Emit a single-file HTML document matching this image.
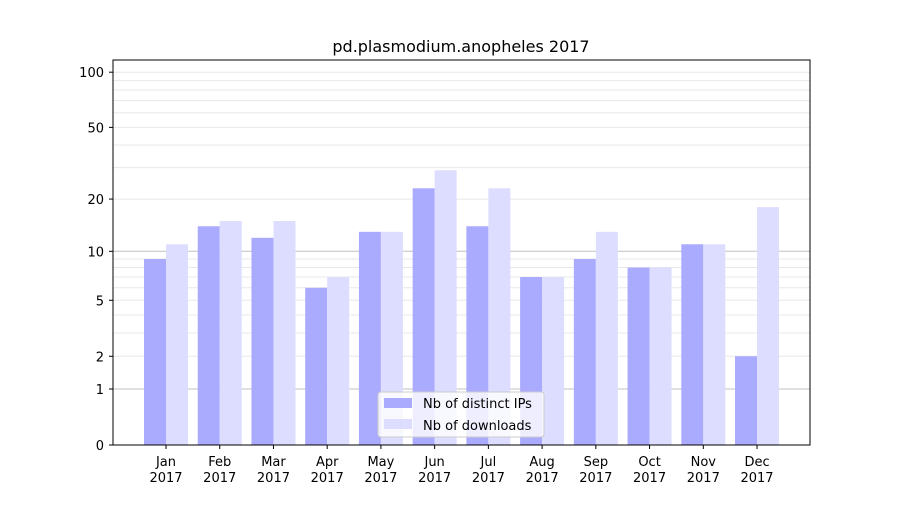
<!DOCTYPE html>
<html><head><meta charset="utf-8"><style>
body{margin:0;background:#fff;font-family:"Liberation Sans","DejaVu Sans",sans-serif;}
svg text{font-family:"DejaVu Sans","Liberation Sans",sans-serif;}
</style></head><body>
<svg id="chart" width="900" height="500" xmlns="http://www.w3.org/2000/svg">
<rect width="900" height="500" fill="#fff"/>
<text x="461" y="52" text-anchor="middle" font-size="16">pd.plasmodium.anopheles 2017</text>
<g id="grid"></g><g id="bars"></g><g id="axes"></g>
<rect x="113" y="60" width="697" height="385" fill="none" stroke="#000" stroke-width="1"/>
<g>
<rect x="378" y="392" width="166" height="45" rx="3" fill="#fff" fill-opacity="0.8" stroke="#ccc"/>
<rect x="384" y="398" width="28" height="10" fill="#aaaaff"/>
<text x="423" y="408" font-size="13">Nb of distinct IPs</text>
<rect x="384" y="419" width="28" height="10" fill="#ddddff"/>
<text x="423" y="430" font-size="13">Nb of downloads</text>
</g>
</svg>
<script>
const categories=["Jan","Feb","Mar","Apr","May","Jun","Jul","Aug","Sep","Oct","Nov","Dec"];
const ips=[9,14,12,6,13,23,14,7,9,8,11,2];
const downloads=[11,15,15,7,13,29,23,7,13,8,11,18];
const yTicks=[0,1,2,5,10,20,50,100];
const minorTicks=[3,4,6,7,8,9,30,40,60,70,80,90];
const NS="http://www.w3.org/2000/svg";
const y=v=>445-186*Math.log10(1+v);
const x=i=>166+i*53.73;
const bw=22;
function mk(t,a,p){const e=document.createElementNS(NS,t);for(const k in a)e.setAttribute(k,a[k]);p.appendChild(e);return e;}
const grid=document.getElementById('grid'),bars=document.getElementById('bars'),axes=document.getElementById('axes');
minorTicks.forEach(v=>{const l=mk('line',{x1:113,x2:810,y1:y(v),y2:y(v),stroke:'#e8e8e8','stroke-width':1},grid);

});
yTicks.forEach(v=>{const major=(v===1||v===10);
const l=mk('line',{x1:113,x2:810,y1:y(v),y2:y(v),stroke:major?'#c0c0c0':'#e8e8e8','stroke-width':1},grid);


mk('line',{x1:109,x2:113,y1:y(v),y2:y(v),stroke:'#000'},axes);
const t=mk('text',{x:104,y:y(v)+5,'text-anchor':'end','font-size':13},axes);t.textContent=v;

});
categories.forEach((c,i)=>{
const b1=mk('rect',{x:x(i)-bw,y:y(ips[i]),width:bw,height:445-y(ips[i]),fill:'#aaaaff'},bars);


const b2=mk('rect',{x:x(i),y:y(downloads[i]),width:bw,height:445-y(downloads[i]),fill:'#ddddff'},bars);


mk('line',{x1:x(i),x2:x(i),y1:445,y2:449,stroke:'#000'},axes);
const t=mk('text',{x:x(i),y:466,'text-anchor':'middle','font-size':13},axes);t.textContent=c;


const t2=mk('text',{x:x(i),y:482,'text-anchor':'middle','font-size':13},axes);t2.textContent='2017';

});
</script>
</body></html>
